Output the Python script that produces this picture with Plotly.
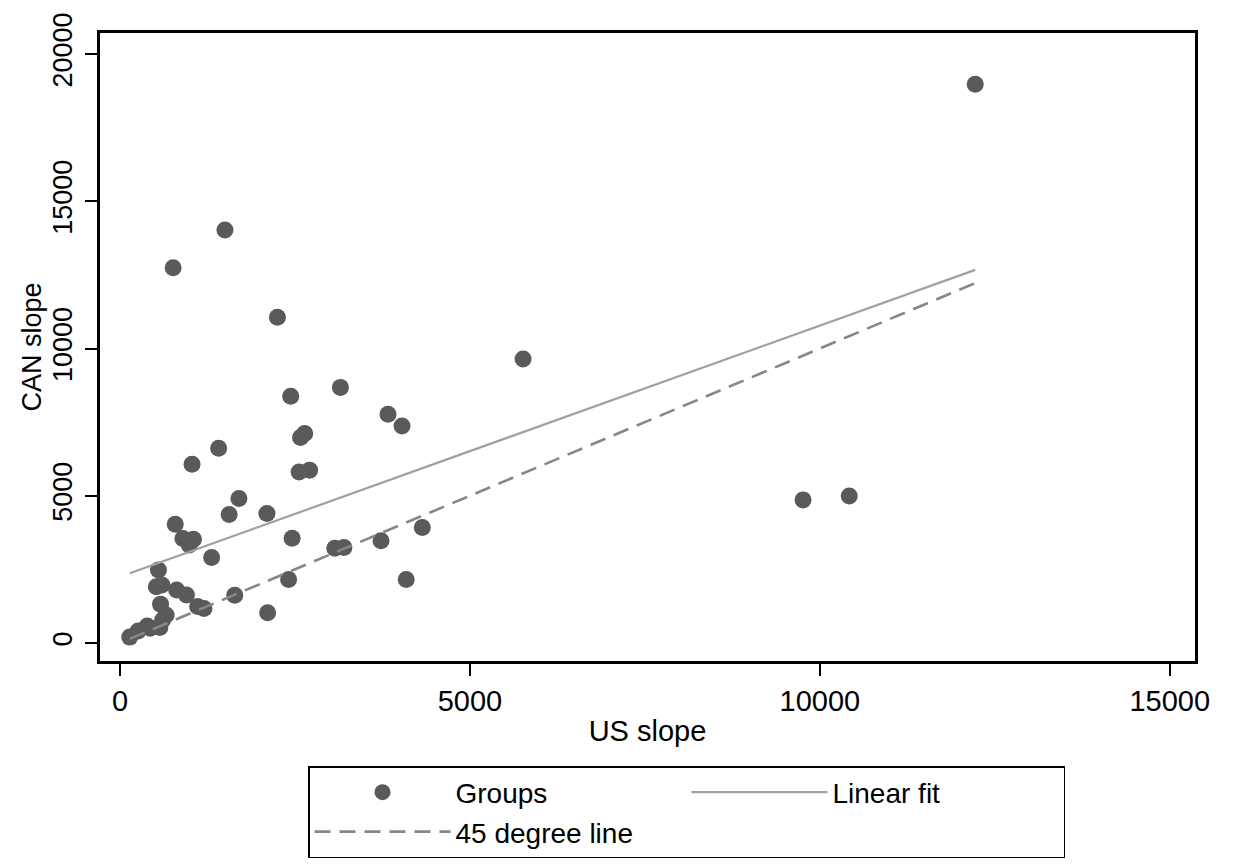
import plotly.graph_objects as go

# Data
us_slope = [12220, 1500, 760, 2250, 5760, 2440, 3150, 3830, 4030, 1410,
            1030, 2580, 2640, 2560, 2710, 1700, 1560, 2100, 790, 900,
            1050, 990, 1310, 2460, 3070, 3200, 3730, 4320, 9760, 10420,
            550, 2410, 4090, 1640, 2110, 520, 600, 810, 950, 1110,
            1200, 580, 660, 610, 570, 390, 260, 140, 430]
can_slope = [18970, 14020, 12740, 11060, 9640, 8380, 8680, 7770, 7370, 6610,
             6070, 6980, 7110, 5810, 5870, 4910, 4360, 4400, 4030, 3550,
             3520, 3330, 2900, 3560, 3220, 3240, 3470, 3920, 4860, 4990,
             2480, 2160, 2160, 1620, 1030, 1910, 1970, 1800, 1630, 1240,
             1170, 1320, 950, 780, 530, 580, 410, 200, 500]

fit_x = [140, 12220]
fit_y = [2370, 12670]
diag_x = [140, 12220]
diag_y = [140, 12220]

x_ticks = [0, 5000, 10000, 15000]
y_ticks = [0, 5000, 10000, 15000, 20000]

FONT = "Liberation Sans, Arial, sans-serif"

fig = go.Figure()
fig.add_trace(go.Scatter(
    x=us_slope, y=can_slope, mode="markers", name="Groups",
    marker=dict(size=17, color="#5a5a5a", line=dict(width=0)),
))
fig.add_trace(go.Scatter(
    x=fit_x, y=fit_y, mode="lines", name="Linear fit",
    line=dict(color="#a0a0a0", width=2.2),
))
fig.add_trace(go.Scatter(
    x=diag_x, y=diag_y, mode="lines", name="45 degree line",
    line=dict(color="#878787", width=2.6, dash="16px,9px"),
))

fig.update_layout(
    width=1233, height=865,
    margin=dict(l=92, r=46, t=25, b=212, autoexpand=False),
    paper_bgcolor="white", plot_bgcolor="white",
    font=dict(family=FONT, size=27, color="black"),
    showlegend=True,
    legend=dict(
        orientation="h",
        x=(308 - 100) / 1095, xanchor="left",
        y=-(766 - 661) / 628, yanchor="top",
        entrywidth=226, entrywidthmode="pixels",
        itemwidth=136,
        bordercolor="black", borderwidth=1.5,
        font=dict(family=FONT, size=28, color="black"),
        tracegroupgap=0,
    ),
    xaxis=dict(
        range=[-285, 15360],
        tickmode="array", tickvals=x_ticks,
        ticktext=[str(v) for v in x_ticks],
        ticks="outside", ticklen=12, tickwidth=1.5, tickcolor="black",
        showline=True, linecolor="black", linewidth=2.5, mirror=True,
        showgrid=False, zeroline=False,
        tickfont=dict(size=29),
        title=dict(text="US slope", font=dict(size=29), standoff=6),
    ),
    yaxis=dict(
        range=[-611, 20713],
        tickmode="array", tickvals=y_ticks,
        ticktext=[str(v) for v in y_ticks],
        tickangle=-90,
        ticks="outside", ticklen=12, tickwidth=1.5, tickcolor="black",
        showline=True, linecolor="black", linewidth=2.5, mirror=True,
        showgrid=False, zeroline=False,
        tickfont=dict(size=27),
        ticklabelstandoff=2,
        title=dict(text="CAN slope", font=dict(size=27), standoff=0),
    ),
)

fig.write_html("out.html")
